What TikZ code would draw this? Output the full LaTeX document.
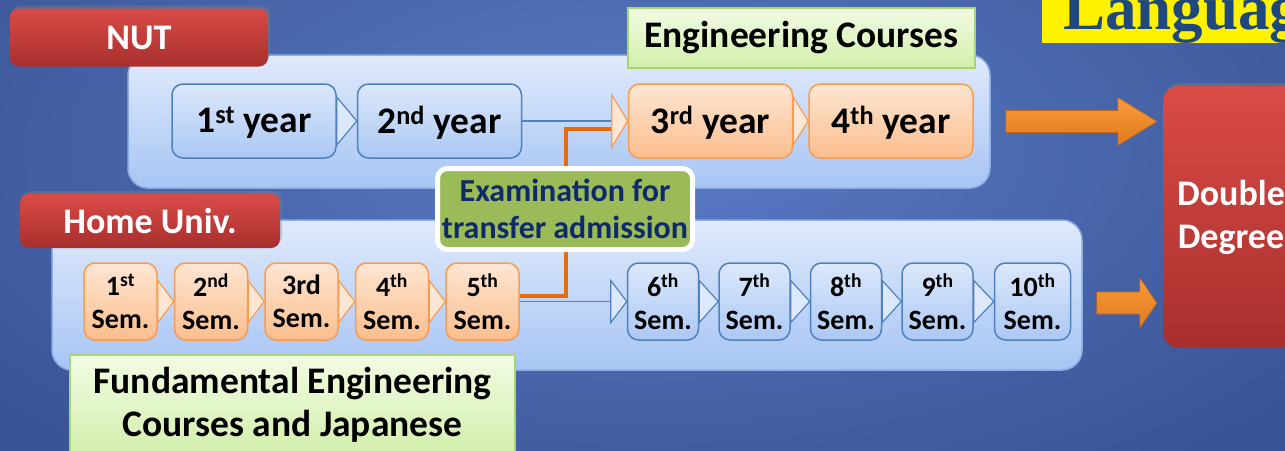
\documentclass[tikz,border=0pt]{standalone}
\usepackage{fontspec}
\setmainfont{Carlito}
\newfontfamily\titlefont{Liberation Serif}
\usetikzlibrary{positioning,calc,shadows}

\definecolor{bgmid}{HTML}{5A7BC6}
\definecolor{bgedge}{HTML}{3A5495}
\definecolor{paneltop}{HTML}{E0EAFC}
\definecolor{panelbot}{HTML}{A7C5F4}
\definecolor{paneledge}{HTML}{8DAEE4}
\definecolor{bluetop}{HTML}{DCE8FB}
\definecolor{bluebot}{HTML}{ABC8F4}
\definecolor{blueedge}{HTML}{4F81BD}
\definecolor{orangetop}{HTML}{FDE6D3}
\definecolor{orangebot}{HTML}{FBBE8D}
\definecolor{orangeedge}{HTML}{F79C52}
\definecolor{redtop}{HTML}{DA4B47}
\definecolor{redbot}{HTML}{A72F2D}
\definecolor{greentop}{HTML}{F2FBE4}
\definecolor{greenbot}{HTML}{D2EFAB}
\definecolor{greenedge}{HTML}{A9D56F}
\definecolor{examgreen}{HTML}{9BBB59}
\definecolor{examtext}{HTML}{0F2A6B}
\definecolor{linkorange}{HTML}{E46C0A}
\definecolor{arrowtop}{HTML}{FA9A3A}
\definecolor{arrowbot}{HTML}{E07A1F}
\definecolor{titleblue}{HTML}{1F497D}

\tikzstyle{panel}=[draw=paneledge, line width=1.5, rounded corners=20, top color=paneltop, bottom color=panelbot]
\tikzstyle{bluebox}=[draw=blueedge, line width=1.5, rounded corners=11, top color=bluetop, bottom color=bluebot, inner sep=0]
\tikzstyle{orangebox}=[draw=orangeedge, line width=1.5, rounded corners=11, top color=orangetop, bottom color=orangebot, inner sep=0]
\tikzstyle{yearbox}=[minimum width=164, minimum height=74, text depth=3, font=\fontsize{37.5}{42}\selectfont\bfseries]
\tikzstyle{sembox}=[minimum width=73, minimum height=77, align=center, font=\fontsize{28}{33}\selectfont\bfseries]
\tikzstyle{redlabel}=[rounded corners=9, top color=redtop, bottom color=redbot, text=white, font=\fontsize{36}{43}\selectfont\bfseries, drop shadow={shadow xshift=2, shadow yshift=-3, opacity=0.4}]
\tikzstyle{greenlabel}=[draw=greenedge, line width=1.5, top color=greentop, bottom color=greenbot, align=center, font=\fontsize{37.5}{43}\selectfont\bfseries]
\tikzstyle{chevblue}=[draw=blueedge, line width=1.2, fill=bluetop]
\tikzstyle{chevorange}=[draw=orangeedge, line width=1.2, fill=orangetop]
\tikzstyle{link}=[linkorange, line width=4]
\tikzstyle{bigarrow}=[top color=arrowtop, bottom color=arrowbot, draw=arrowbot!85!black, line width=0.6]

\begin{document}
\begin{tikzpicture}[x=1pt, y=-1pt]
\useasboundingbox (0,0) rectangle (1285,450);
\clip (0,0) rectangle (1285,450);
\shade[inner color=bgmid, outer color=bgedge] (-200,-250) rectangle (1485,550);

% the two course panels
\node[panel, minimum width=862, minimum height=133] (nutpanel) at (559,121.5) {};
\node[panel, minimum width=1030, minimum height=150] (homepanel) at (567,295) {};

% years at NUT
\node[bluebox, yearbox] (y1) at (254,121) {1\textsuperscript{st} year};
\node[bluebox, yearbox, right=20pt of y1] (y2) {2\textsuperscript{nd} year};
\node[orangebox, yearbox] (y3) at (710.5,121) {3\textsuperscript{rd} year};
\node[orangebox, yearbox, right=15pt of y3] (y4) {4\textsuperscript{th} year};

% semesters at home
\node[orangebox, sembox] (s1) at (120.5,301.5) {1\textsuperscript{st}\\Sem.};
\node[orangebox, sembox, right=16pt of s1] (s2) {2\textsuperscript{nd}\\Sem.};
\node[orangebox, sembox, right=16pt of s2] (s3) {3rd\\Sem.};
\node[orangebox, sembox, right=16pt of s3] (s4) {4\textsuperscript{th}\\Sem.};
\node[orangebox, sembox, right=16pt of s4] (s5) {5\textsuperscript{th}\\Sem.};
\node[bluebox, sembox, minimum width=71] (s6) at (663,301.5) {6\textsuperscript{th}\\Sem.};
\node[bluebox, sembox, minimum width=71, right=19pt of s6] (s7) {7\textsuperscript{th}\\Sem.};
\node[bluebox, sembox, minimum width=71, right=19pt of s7] (s8) {8\textsuperscript{th}\\Sem.};
\node[bluebox, sembox, minimum width=71, right=19pt of s8] (s9) {9\textsuperscript{th}\\Sem.};
\node[bluebox, sembox, minimum width=76, right=20pt of s9] (s10) {10\textsuperscript{th}\\Sem.};

% chevrons
\filldraw[chevblue] ($(y1.east)+(0,-24)$) -- (y2.west) -- ($(y1.east)+(0,24)$) -- cycle;
\filldraw[chevorange] ($(y3.east)+(0,-24)$) -- (y4.west) -- ($(y3.east)+(0,24)$) -- cycle;
\foreach \a/\b in {s1/s2,s2/s3,s3/s4,s4/s5}
  \filldraw[chevorange] ($(\a.east)+(0,-21)$) -- (\b.west) -- ($(\a.east)+(0,21)$) -- cycle;
\foreach \a/\b in {s6/s7,s7/s8,s8/s9,s9/s10}
  \filldraw[chevblue] ($(\a.east)+(0,-21)$) -- (\b.west) -- ($(\a.east)+(0,21)$) -- cycle;

% from 2nd year and 5th semester on
\coordinate (t3) at ($(y3.west)+(-16,0)$);
\coordinate (t6) at ($(s6.west)+(-16,0)$);
\draw[blueedge, line width=1.2] (y2.east) -- (t3);
\draw[blueedge, line width=1.2] (s5.east) -- (t6);
\draw[link] ($(s5.east)+(0,-6)$) -| ($(t3)+(-46,8)$) -- ($(t3)+(0,8)$);
\filldraw[chevorange] ($(t3)+(0,-26)$) -- (y3.west) -- ($(t3)+(0,26)$) -- cycle;
\filldraw[chevblue] ($(t6)+(0,-21)$) -- (s6.west) -- ($(t6)+(0,21)$) -- cycle;

% labels
\node[redlabel, minimum width=258, minimum height=58] (nut) at (139,37.5) {NUT};
\node[redlabel, minimum width=260, minimum height=54] (home) at (150,221) {Home Univ.};
\node[greenlabel, minimum width=347, minimum height=60] (engc) at (801.5,38) {Engineering Courses};
\node[greenlabel, minimum width=445, minimum height=100] (fund) at (292.5,405) {Fundamental Engineering\\Courses and Japanese};
\node[draw=white, line width=5, fill=examgreen, rounded corners=10, minimum width=255, minimum height=81, text=examtext, align=center, font=\fontsize{32}{37}\selectfont\bfseries] (exam) at (565,209) {Examination for\\transfer admission};

% double degree
\node[redlabel, rounded corners=16, minimum width=136, minimum height=262, align=center] (dd) at (1231,217) {Double\\Degree};
\node[fill=yellow, anchor=base west, inner xsep=21, inner ysep=2, text depth=12, text=titleblue, font=\titlefont\bfseries\fontsize{63}{63}\selectfont] (lang) at (1042,29) {Language};

% arrows into the double degree
\coordinate (a1s) at ($(nutpanel.east)+(15,0)$);
\coordinate (a1e) at ($(dd.west |- a1s)+(-6,0)$);
\shade[bigarrow] ($(a1s)+(0,-11)$) -- ($(a1e)+(-39,-11)$) -- ($(a1e)+(-39,-24)$) -- (a1e) -- ($(a1e)+(-39,24)$) -- ($(a1e)+(-39,11)$) -- ($(a1s)+(0,11)$) -- cycle;
\coordinate (a2s) at ($(homepanel.east)+(14,8)$);
\coordinate (a2e) at ($(dd.west |- a2s)+(-6,0)$);
\shade[bigarrow] ($(a2s)+(0,-11)$) -- ($(a2e)+(-17,-11)$) -- ($(a2e)+(-17,-25)$) -- (a2e) -- ($(a2e)+(-17,25)$) -- ($(a2e)+(-17,11)$) -- ($(a2s)+(0,11)$) -- cycle;
\end{tikzpicture}
\end{document}
